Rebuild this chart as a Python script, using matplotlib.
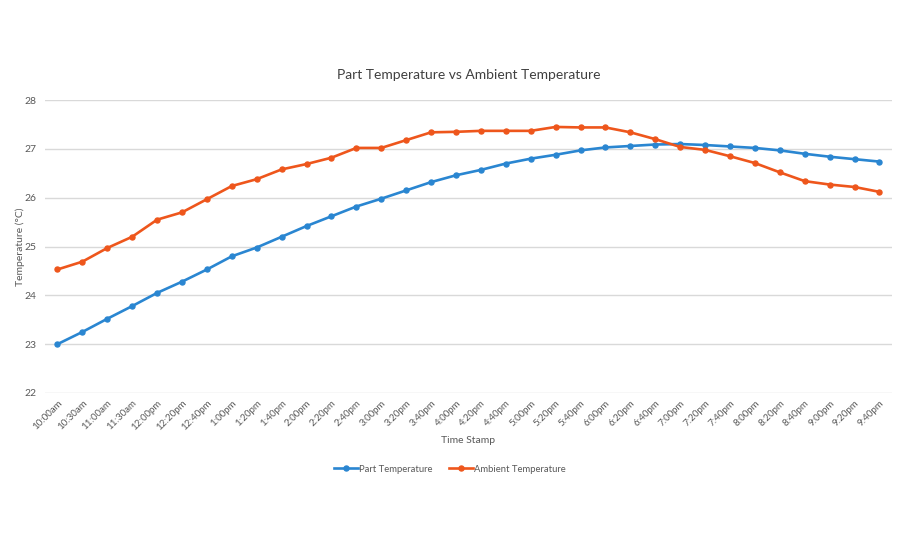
import matplotlib
matplotlib.use("Agg")
import matplotlib.pyplot as plt

times = ["10:00am", "10:30am", "11:00am", "11:30am", "12:00pm", "12:20pm", "12:40pm",
         "1:00pm", "1:20pm", "1:40pm", "2:00pm", "2:20pm", "2:40pm", "3:00pm", "3:20pm",
         "3:40pm", "4:00pm", "4:20pm", "4:40pm", "5:00pm", "5:20pm", "5:40pm", "6:00pm",
         "6:20pm", "6:40pm", "7:00pm", "7:20pm", "7:40pm", "8:00pm", "8:20pm", "8:40pm",
         "9:00pm", "9:20pm", "9:40pm"]

part_temp = [23.00, 23.25, 23.52, 23.78, 24.05, 24.28, 24.53, 24.80, 24.98, 25.20,
             25.42, 25.62, 25.82, 25.98, 26.15, 26.32, 26.46, 26.57, 26.70, 26.80,
             26.88, 26.97, 27.03, 27.06, 27.09, 27.10, 27.08, 27.05, 27.02, 26.97,
             26.90, 26.84, 26.79, 26.74]

ambient_temp = [24.53, 24.69, 24.97, 25.20, 25.55, 25.70, 25.97, 26.24, 26.38, 26.58,
                26.69, 26.82, 27.02, 27.02, 27.18, 27.34, 27.35, 27.37, 27.37, 27.37,
                27.45, 27.44, 27.44, 27.34, 27.20, 27.04, 26.98, 26.85, 26.71, 26.52,
                26.34, 26.27, 26.22, 26.12]

y_ticks = [22, 23, 24, 25, 26, 27, 28]

plt.rcParams['font.family'] = ['Lato', 'DejaVu Sans']
text_color = '#595959'

fig = plt.figure(figsize=(9, 5.5), dpi=100)
ax = fig.add_axes([0.05, 0.2855, 0.941, 0.5325])

x = list(range(len(times)))
ax.plot(x, part_temp, color='#2a86d1', lw=1.9, marker='o', ms=3.6, label='Part Temperature')
ax.plot(x, ambient_temp, color='#ee561c', lw=1.9, marker='o', ms=3.6, label='Ambient Temperature')

ax.set_xlim(-0.5, len(times) - 0.5)
ax.set_ylim(22, 28)
ax.set_yticks(y_ticks)
ax.set_xticks(x)
ax.set_xticklabels(times, rotation=45, ha='right', rotation_mode='anchor', fontsize=7, color=text_color)
ax.tick_params(axis='y', labelsize=7.5, labelcolor=text_color, length=0, pad=6)
ax.tick_params(axis='x', length=0, pad=4)
ax.yaxis.grid(True, color='#d9d9d9', lw=1)
ax.set_axisbelow(True)
for s in ax.spines.values():
    s.set_visible(False)

ax.set_title('Part Temperature vs Ambient Temperature', fontsize=10, color='#404040', pad=15)
ax.set_xlabel('Time Stamp', fontsize=7.5, color=text_color, labelpad=3)
ax.set_ylabel('Temperature (°C)', fontsize=7.5, color=text_color)
ax.yaxis.set_label_coords(-0.024, 0.5)

fig.legend(loc='center', bbox_to_anchor=(0.5, 1 - 469/550), ncol=2, frameon=False,
           fontsize=6.8, labelcolor=text_color, handlelength=2.5, columnspacing=1.8,
           handletextpad=0.1)

fig.savefig('out.png', dpi=100, facecolor='white')
